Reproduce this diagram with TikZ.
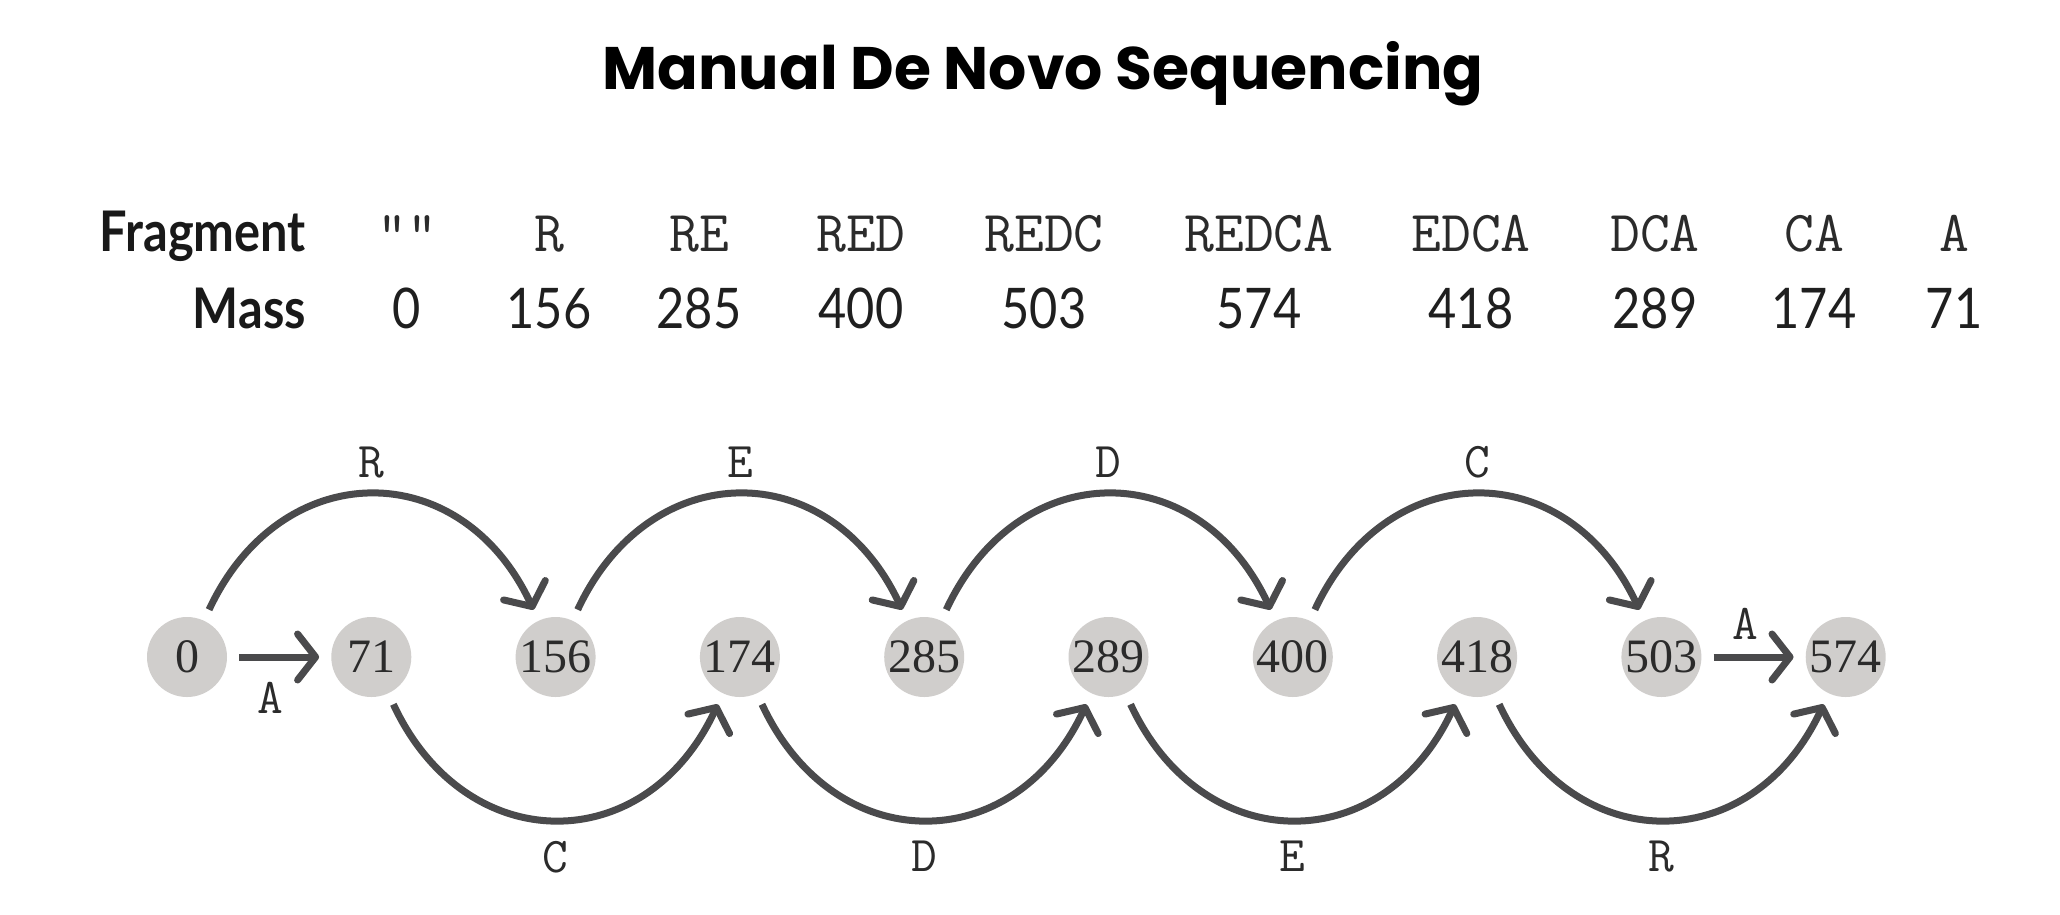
\documentclass[tikz,border=0pt]{standalone}
\usepackage{fontspec}
\setmainfont{Liberation Serif}
\newfontfamily\titlefont{Poppins}
\newfontfamily\headfont{Lato}[FakeStretch=0.87]
\usetikzlibrary{arrows.meta}

\definecolor{arrowgray}{HTML}{4A4A4C}
\definecolor{nodegray}{HTML}{D0CECC}
\definecolor{textdark}{HTML}{2B2B2B}

\tikzset{
  massnode/.style={circle,fill=nodegray,minimum size=80pt,inner sep=0pt,
    text=textdark,font=\fontsize{48}{48}\selectfont},
  link/.style={draw=arrowgray,line width=7pt,
    -{Straight Barb[length=18pt,width=46pt,round]},
    shorten >=12pt,shorten <=12pt},
  aalabel/.style={inner sep=0pt,text=textdark,font=\ttfamily\fontsize{50}{50}\selectfont},
  rowhead/.style={anchor=base east,inner sep=0pt,text=black!90,
    font=\headfont\bfseries\fontsize{56}{56}\selectfont},
  fragtext/.style={anchor=base,inner sep=0pt,text=textdark,
    font=\ttfamily\fontsize{58}{58}\selectfont},
  masstext/.style={anchor=base,inner sep=0pt,text=black!88,
    font=\headfont\fontsize{56}{56}\selectfont}
}

\begin{document}
\begin{tikzpicture}[x=1pt,y=-1pt]
  \useasboundingbox[fill=white] (0,0) rectangle (2060,914);

  \node[anchor=base,inner sep=0pt,font=\titlefont\bfseries\fontsize{60}{60}\selectfont]
    (title) at (1043,89) {Manual De Novo Sequencing};

  % table of fragments
  \node[rowhead] (fraghead) at (306,251) {Fragment};
  \node[rowhead] (masshead) at (306,328) {Mass};
  \foreach \f/\m/\x [count=\i] in {{""}/0/407, R/156/549, RE/285/699, RED/400/861,
      REDC/503/1044, REDCA/574/1259, EDCA/418/1471, DCA/289/1655, CA/174/1814, A/71/1954}{
    \node[fragtext] (frag\i) at (\x,251) {\f};
    \node[masstext] (mass\i) at (\x,328) {\m};
  }

  % spectrum graph
  \foreach \m [count=\i] in {0,71,156,174,285,289,400,418,503,574}
    \node[massnode] (m\m) at ({187+184.3*(\i-1)},657) {\m};

  \draw[link] (m0) -- node[aalabel,pos=0.42,below=22pt] {A} (m71);
  \draw[link] (m503) -- node[aalabel,pos=0.42,above=14pt] {A} (m574);

  \draw[link] (m0) to[out=65,in=115,looseness=1.4] node[aalabel,above=15pt] {R} (m156);
  \draw[link] (m156) to[out=65,in=115,looseness=1.4] node[aalabel,above=15pt] {E} (m285);
  \draw[link] (m285) to[out=65,in=115,looseness=1.4] node[aalabel,above=15pt] {D} (m400);
  \draw[link] (m400) to[out=65,in=115,looseness=1.4] node[aalabel,above=15pt] {C} (m503);

  \draw[link] (m71) to[out=-65,in=-115,looseness=1.4] node[aalabel,below=20pt] {C} (m174);
  \draw[link] (m174) to[out=-65,in=-115,looseness=1.4] node[aalabel,below=20pt] {D} (m289);
  \draw[link] (m289) to[out=-65,in=-115,looseness=1.4] node[aalabel,below=20pt] {E} (m418);
  \draw[link] (m418) to[out=-65,in=-115,looseness=1.4] node[aalabel,below=20pt] {R} (m574);
\end{tikzpicture}
\end{document}
